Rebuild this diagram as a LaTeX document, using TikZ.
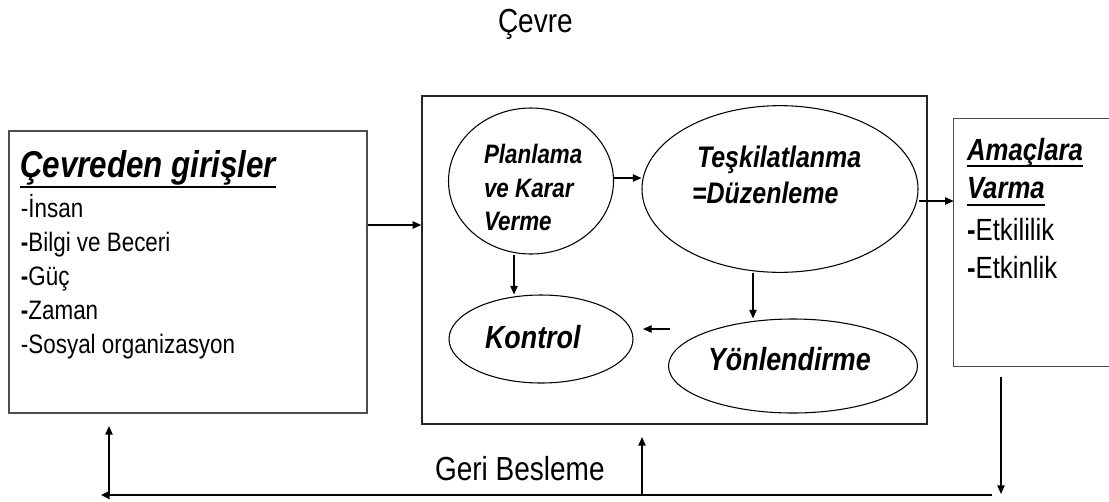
\documentclass[tikz,border=0pt]{standalone}
\usepackage{fontspec}
\setmainfont{Liberation Sans}[FakeStretch=0.84]
\usetikzlibrary{shapes.geometric,arrows.meta,calc}

\begin{document}
\begin{tikzpicture}[x=0.75pt,y=-0.75pt,
  boxframe/.style={draw=black!70,line width=1pt,rectangle,inner sep=0pt},
  oval/.style={draw=black,line width=0.8pt,ellipse,inner sep=0pt},
  txt/.style={anchor=base west,inner sep=0pt,outer sep=0pt},
  bi/.style={font=\fontsize{#1}{#1}\selectfont\bfseries\itshape},
  rg/.style={font=\fontsize{#1}{#1}\selectfont},
  arr/.style={draw=black,line width=1.1pt,-{Triangle[length=6.5pt,width=5.5pt]}},
  fbline/.style={draw=black,line width=1.8pt,-{Triangle[length=6.5pt,width=6pt]}},
  uline/.style={line width=2.2pt},
]
\useasboundingbox[fill=white] (0,0) rectangle (1109,501);

% outer frames
\node[boxframe,minimum width=268.5pt,minimum height=211.5pt] (lb) at (188,272) {};
\node[boxframe,draw=black!85,minimum width=378.75pt,minimum height=246pt] (cb) at (674.5,260) {};
\node[inner sep=0pt,minimum width=116.25pt,minimum height=185.25pt] (rb) at (1031.5,242.5) {};
\draw[black!70,line width=1pt] (rb.north east) -- (rb.north west) -- (rb.south west) -- (rb.south east);

% process ovals
\node[oval,minimum width=123.75pt,minimum height=109.5pt] (pl) at (531,181) {};
\node[oval,minimum width=207pt,minimum height=125pt] (te) at (780,189) {};
\node[oval,minimum width=138pt,minimum height=66pt] (ko) at (541,339) {};
\node[oval,minimum width=186.75pt,minimum height=70.5pt] (yo) at (793,366) {};

% titles
\node[txt,rg=25pt] (cevre) at (498,32) {Çevre};
\node[txt,rg=25pt] (geri) at (435,480) {Geri Besleme};

% inputs
\node[txt,bi=28pt] (t1) at (20,177) {Çevreden girişler};
\draw[uline] ($(t1.base west)+(0,10)$) -- ($(t1.base east)+(0,10)$);
\node[txt,rg=20pt] (i1) at (21,217) {-İnsan};
\node[txt,rg=20pt] (i2) at (21,251) {\textbf{-}Bilgi ve Beceri};
\node[txt,rg=20pt] (i3) at (21,285) {\textbf{-}Güç};
\node[txt,rg=20pt] (i4) at (21,319) {\textbf{-}Zaman};
\node[txt,rg=20pt] (i5) at (21,353) {-Sosyal organizasyon};

% oval labels
\node[txt,bi=20pt] (p1) at (484,163) {Planlama};
\node[txt,bi=20pt] (p2) at (484,197) {ve Karar};
\node[txt,bi=20pt] (p3) at (484,230) {Verme};
\node[txt,bi=22.3pt] (e1) at (697,167) {Teşkilatlanma};
\node[txt,bi=22.3pt] (e2) at (692,203) {=Düzenleme};
\node[txt,bi=24pt] (k1) at (485,348) {Kontrol};
\node[txt,bi=24pt] (y1) at (708,370) {Yönlendirme};

% outputs
\node[txt,bi=23pt] (o1) at (967,160) {Amaçlara};
\draw[uline] ($(o1.base west)+(0,6)$) -- ($(o1.base east)+(0,6)$);
\node[txt,bi=23pt] (o2) at (967,198) {Varma};
\draw[uline] ($(o2.base west)+(0,7)$) -- ($(o2.base east)+(0,7)$);
\node[txt,rg=23pt] (o3) at (967,240) {\textbf{-}Etkililik};
\node[txt,rg=23pt] (o4) at (967,278) {\textbf{-}Etkinlik};

% flow arrows
\draw[arr] (lb.east |- 0,225) -- (cb.west |- 0,225);
\draw[arr] (pl.east |- 0,178) -- (te.west |- 0,178);
\draw[arr] (pl.south -| 514,0) -- (ko.north -| 514,0);
\draw[arr] (te.south -| 753,0) -- (yo.north -| 753,0);
\coordinate (yk1) at (670,329);
\coordinate (yk2) at (643,329);
\draw[arr] (yk1) -- (yk2);
\draw[arr] (te.east |- 0,201) -- (rb.west |- 0,201);

% feedback loop
\coordinate (fbTop) at (1001,377);
\coordinate (fbBot) at (1001,494);
\draw[arr] (fbTop) -- (fbBot);
\coordinate (fbR) at (992,495);
\coordinate (fbL) at (101,495);
\draw[fbline] (fbR) -- (fbL);
\coordinate (upL) at (109,495);
\coordinate (upLt) at (109,426);
\draw[arr] (upL) -- (upLt);
\coordinate (upC) at (642,495);
\coordinate (upCt) at (642,437);
\draw[arr] (upC) -- (upCt);
\end{tikzpicture}
\end{document}
